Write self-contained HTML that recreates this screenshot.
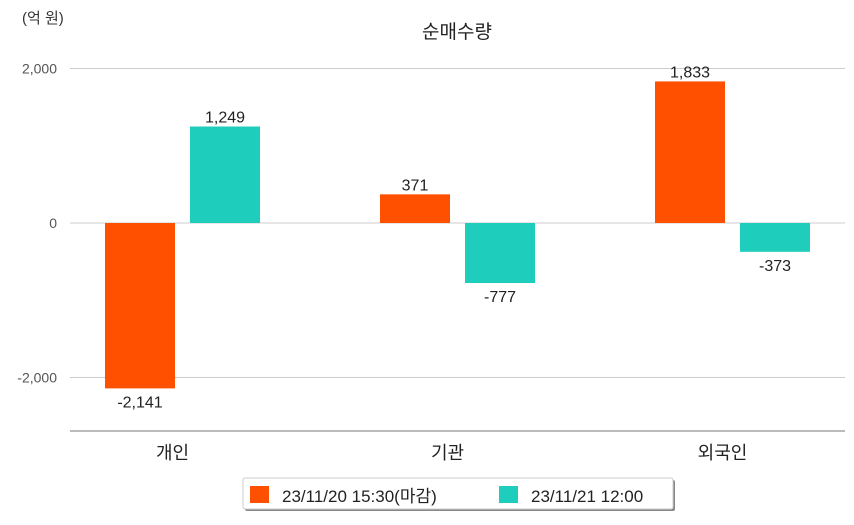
<!DOCTYPE html>
<html><head><meta charset="utf-8"><style>
body{margin:0;background:#fff;font-family:"Liberation Sans","Noto Sans CJK KR",sans-serif;}
svg text{font-family:"Liberation Sans","Noto Sans CJK KR",sans-serif;}
</style></head><body>
<svg id="chart" width="854" height="520" xmlns="http://www.w3.org/2000/svg">
<text x="22" y="23" font-size="15" fill="#333">(억 원)</text>
<text x="457" y="38" font-size="19" text-anchor="middle" fill="#222">순매수량</text>
<g id="grid"></g><g id="bars"></g>
<g>
<rect x="245" y="480" width="430" height="31" fill="#888" rx="2"/>
<rect x="243" y="478" width="430" height="31" fill="#fff" stroke="#ccc" rx="2"/>
<rect x="250" y="486" width="19" height="17" fill="#ff5000"/>
<text x="282" y="502" font-size="17" fill="#222">23/11/20 15:30(마감)</text>
<rect x="499" y="486" width="19" height="17" fill="#1ecdbb"/>
<text x="531" y="502" font-size="17" fill="#222">23/11/21 12:00</text>
</g>
</svg>
<script>
const categories=["개인","기관","외국인"];
const series1=[-2141,371,1833];
const series2=[1249,-777,-373];
const yTicks=[2000,0,-2000];
const NS="http://www.w3.org/2000/svg";
const y=v=>223-v*0.07725;
const cx=i=>182.5+i*275;
const svg=document.getElementById('chart');
const grid=document.getElementById('grid'),bars=document.getElementById('bars');
function mk(tag,attrs,parent,txt){const e=document.createElementNS(NS,tag);for(const k in attrs)e.setAttribute(k,attrs[k]);if(txt!==undefined)e.textContent=txt;parent.appendChild(e);return e;}
yTicks.forEach(t=>{
 const l=mk('line',{x1:70,x2:845,y1:y(t),y2:y(t),stroke:'#ccc'},grid);
 
 
 const tx=mk('text',{x:57,y:y(t)+5,'font-size':14,'text-anchor':'end',fill:'#555'},grid,t.toLocaleString('en-US'));
 
 
});
const ax=mk('line',{x1:70,x2:845,y1:431,y2:431,stroke:'#777'},grid);


categories.forEach((c,i)=>{
 const lt=mk('text',{x:cx(i)-10,y:459,'font-size':18,'text-anchor':'middle',fill:'#222'},grid,c);
 
 
 [[series1,'#ff5000',-77.5],[series2,'#1ecdbb',7.5]].forEach(([s,col,off],k)=>{
  const v=s[i],x0=cx(i)+off;
  const top=Math.min(y(v),y(0)),h=Math.abs(y(v)-y(0));
  const r=mk('rect',{x:x0,y:top,width:70,height:h,fill:col},bars);
  
  
  const ly=v>=0?y(v)-4:y(v)+19;
  const t=mk('text',{x:x0+35,y:ly,'font-size':16,'text-anchor':'middle',fill:'#222'},bars,v.toLocaleString('en-US'));
  
  
 });
});
</script>
</body></html>
